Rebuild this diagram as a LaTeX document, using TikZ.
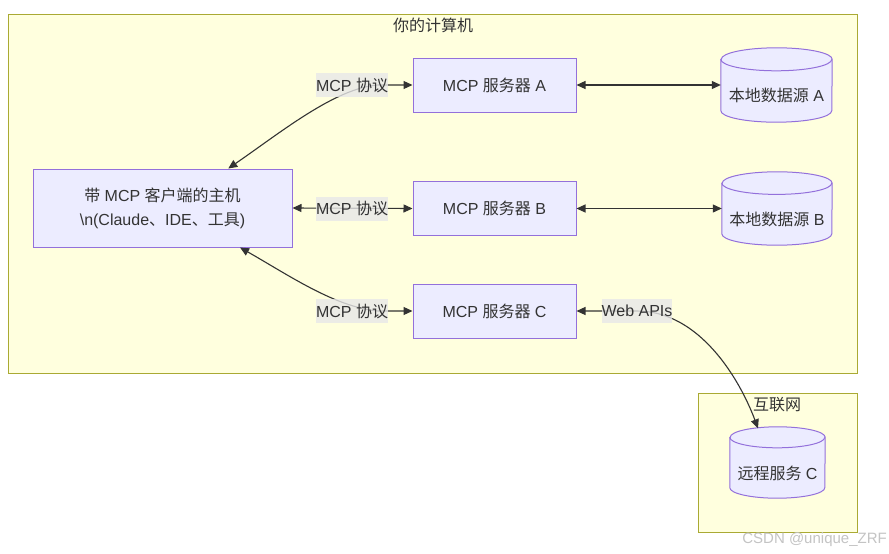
\documentclass[tikz,border=0pt]{standalone}
\usepackage{fontspec}
\setmainfont{Liberation Sans}
\newfontfamily\cjk{Noto Sans CJK SC}
\usetikzlibrary{arrows.meta,calc}
\definecolor{clfill}{HTML}{FFFFDE}
\definecolor{clstroke}{HTML}{AAAA33}
\definecolor{ndfill}{HTML}{ECECFF}
\definecolor{ndstroke}{HTML}{9370DB}
\definecolor{txt}{HTML}{333333}
\definecolor{lblgray}{HTML}{E8E8E8}
\definecolor{wm}{HTML}{C4C4C4}
\newcommand\mkcyl[3]{%
 \path[fill=ndfill,draw=ndstroke,line width=1pt]
   ($(#1.north west)+(0,#3)$) -- ($(#1.south west)+(0,-#3)$)
   arc[start angle=180,end angle=360,x radius=#2pt,y radius=#3pt]
   -- ($(#1.north east)+(0,#3)$)
   arc[start angle=0,end angle=180,x radius=#2pt,y radius=#3pt] -- cycle;
 \draw[ndstroke,line width=1pt] ($(#1.north west)+(0,#3)$)
   arc[start angle=180,end angle=360,x radius=#2pt,y radius=#3pt];
}
\begin{document}
\begin{tikzpicture}[x=1pt,y=-1pt,
  font=\fontsize{16}{19}\selectfont, text=txt,
  cluster/.style={fill=clfill,draw=clstroke,line width=1pt},
  srvbox/.style={rectangle,fill=ndfill,draw=ndstroke,line width=1pt,minimum width=163pt,minimum height=54pt,inner sep=0pt},
  hostbox/.style={srvbox,minimum width=259pt,minimum height=78pt,align=center,font=\fontsize{16}{24}\selectfont},
  dbbox/.style={rectangle,inner sep=0pt},
  elbl/.style={fill=lblgray,fill opacity=0.8,text opacity=1,inner xsep=0pt,inner ysep=0pt,minimum height=24pt},
  link/.style={draw=txt,line width=1.1pt,{Triangle[length=9pt,width=8pt]}-{Triangle[length=9pt,width=8pt]}},
  ttl/.style={inner sep=0pt},
]
\useasboundingbox (0,0) rectangle (889,554);
\fill[white] (0,0) rectangle (889,554);
% clusters
\draw[cluster] (8,14) rectangle (857,373);
\node[ttl] (t1) at (433,25) {\cjk 你的计算机};
\draw[cluster] (698,393) rectangle (857,532);
\node[ttl] (t2) at (777,405) {\cjk 互联网};
% nodes
\node[hostbox] (host) at (162.5,208) {{\cjk 带} MCP {\cjk 客户端的主机}\\\textbackslash n(Claude{\cjk 、}IDE{\cjk 、工具})};
\node[srvbox] (srvA) at (494.5,85) {MCP {\cjk 服务器} A};
\node[srvbox] (srvB) at (494.5,208.5) {MCP {\cjk 服务器} B};
\node[srvbox] (srvC) at (494.5,311) {MCP {\cjk 服务器} C};
\node[dbbox,minimum width=111pt,minimum height=74pt] (dsA) at (776.5,85) {};
\node[dbbox,minimum width=110pt,minimum height=73pt] (dsB) at (777,208.5) {};
\node[dbbox,minimum width=95pt,minimum height=71pt] (rem) at (777.5,462.5) {};
\mkcyl{dsA}{55.5}{11.5}
\mkcyl{dsB}{55}{11.3}
\mkcyl{rem}{47.5}{10.5}
\node (dsAt) at ($(dsA.center)+(0,10.5)$) {{\cjk 本地数据源} A};
\node (dsBt) at ($(dsB.center)+(0,10.5)$) {{\cjk 本地数据源} B};
\node (remt) at ($(rem.center)+(0,10.5)$) {{\cjk 远程服务} C};
\coordinate (remTop) at ($(rem.north)+(-19.5,1.5)$);
% label positions
\coordinate (pA) at (352,85);
\coordinate (pB) at (352,208.5);
\coordinate (pC) at (352,311);
\coordinate (pW) at (637,311);
% edges
\draw[link] (host.31.4) .. controls (280,133) and (335,88) .. (378,85) -- (srvA.west);
\draw[link] (host.east) -- (srvB.west);
\draw[link] (host.-27.9) .. controls (290,276) and (335,307) .. (378,311) -- (srvC.west);
\draw[link] (srvA.east) -- (dsA.west);
\draw[link] (srvB.east) -- (dsB.west);
\draw[link] (srvC.east) -- (pW) .. controls (700,311) and (740,380) .. (remTop);
% edge labels
\node[elbl] (lblA) at (pA) {MCP {\cjk 协议}};
\node[elbl] (lblB) at (pB) {MCP {\cjk 协议}};
\node[elbl] (lblC) at (pC) {MCP {\cjk 协议}};
\node[elbl] (lblW) at (pW) {Web APIs};
% watermark
\node[anchor=east,text=wm,inner sep=0pt,font=\fontsize{15}{18}\selectfont] (wmk) at (887,540) {CSDN @unique\_ZRF};
\end{tikzpicture}
\end{document}
